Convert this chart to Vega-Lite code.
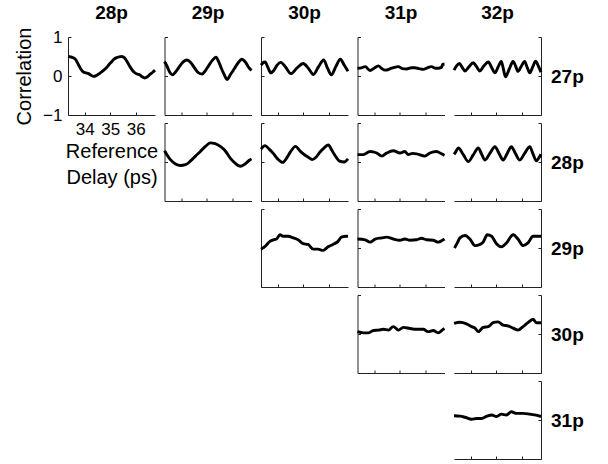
{
  "$schema": "https://vega.github.io/schema/vega-lite/v6.json",
  "padding": {"left": 14, "top": 3, "right": 5, "bottom": 0},
  "background": "white",
  "config": {
    "view": {"stroke": null},
    "font": "Liberation Sans",
    "axis": {"domainColor": "#222", "tickColor": "#222", "domainWidth": 1, "tickWidth": 1, "tickSize": -3, "grid": false, "labelColor": "black", "titleColor": "black", "labelFont": "Liberation Sans", "titleFont": "Liberation Sans", "labelFontSize": 17, "titleFontSize": 20, "titleFontWeight": "normal", "labelOverlap": false},
    "title": {"fontSize": 19, "fontWeight": "bold", "color": "black", "font": "Liberation Sans", "offset": 14},
    "line": {"color": "black", "strokeWidth": 2.9, "interpolate": "monotone"}
  },
  "datasets": {
    "p27_28": [{"x":33.35,"y":0.50},{"x":33.45,"y":0.49},{"x":33.55,"y":0.47},{"x":33.65,"y":0.42},{"x":33.75,"y":0.30},{"x":33.85,"y":0.18},{"x":33.95,"y":0.10},{"x":34.05,"y":0.08},{"x":34.15,"y":0.06},{"x":34.25,"y":0.02},{"x":34.35,"y":-0.01},{"x":34.45,"y":0.01},{"x":34.55,"y":0.05},{"x":34.65,"y":0.10},{"x":34.75,"y":0.15},{"x":34.85,"y":0.21},{"x":34.95,"y":0.29},{"x":35.05,"y":0.36},{"x":35.15,"y":0.43},{"x":35.25,"y":0.47},{"x":35.35,"y":0.49},{"x":35.45,"y":0.50},{"x":35.55,"y":0.47},{"x":35.65,"y":0.38},{"x":35.75,"y":0.26},{"x":35.85,"y":0.16},{"x":35.95,"y":0.09},{"x":36.05,"y":0.05},{"x":36.15,"y":0.03},{"x":36.25,"y":-0.02},{"x":36.35,"y":-0.05},{"x":36.45,"y":-0.02},{"x":36.55,"y":0.04},{"x":36.65,"y":0.09},{"x":36.75,"y":0.15}],
    "p27_29": [{"x":33.35,"y":0.37},{"x":33.45,"y":0.25},{"x":33.55,"y":0.10},{"x":33.65,"y":0.03},{"x":33.78,"y":0.10},{"x":33.93,"y":0.24},{"x":34.08,"y":0.36},{"x":34.23,"y":0.41},{"x":34.38,"y":0.34},{"x":34.53,"y":0.20},{"x":34.68,"y":0.08},{"x":34.82,"y":0.05},{"x":34.95,"y":0.14},{"x":35.09,"y":0.28},{"x":35.22,"y":0.40},{"x":35.36,"y":0.48},{"x":35.47,"y":0.36},{"x":35.57,"y":0.20},{"x":35.68,"y":0.04},{"x":35.79,"y":-0.09},{"x":35.94,"y":0.05},{"x":36.09,"y":0.20},{"x":36.23,"y":0.34},{"x":36.37,"y":0.43},{"x":36.52,"y":0.35},{"x":36.64,"y":0.22},{"x":36.75,"y":0.14}],
    "p27_30": [{"x":33.35,"y":0.28},{"x":33.43,"y":0.34},{"x":33.51,"y":0.36},{"x":33.62,"y":0.22},{"x":33.73,"y":0.08},{"x":33.85,"y":0.14},{"x":33.98,"y":0.28},{"x":34.12,"y":0.35},{"x":34.3,"y":0.24},{"x":34.52,"y":0.06},{"x":34.75,"y":0.20},{"x":35.0,"y":0.32},{"x":35.2,"y":0.20},{"x":35.4,"y":0.04},{"x":35.6,"y":0.24},{"x":35.8,"y":0.41},{"x":35.95,"y":0.20},{"x":36.1,"y":0.03},{"x":36.28,"y":0.25},{"x":36.45,"y":0.43},{"x":36.6,"y":0.28},{"x":36.75,"y":0.12}],
    "p27_31": [{"x":33.35,"y":0.20},{"x":33.5,"y":0.21},{"x":33.65,"y":0.24},{"x":33.84,"y":0.14},{"x":34.0,"y":0.20},{"x":34.17,"y":0.26},{"x":34.3,"y":0.19},{"x":34.43,"y":0.15},{"x":34.69,"y":0.20},{"x":34.95,"y":0.24},{"x":35.1,"y":0.19},{"x":35.27,"y":0.18},{"x":35.45,"y":0.21},{"x":35.59,"y":0.21},{"x":35.75,"y":0.19},{"x":35.92,"y":0.17},{"x":36.08,"y":0.21},{"x":36.24,"y":0.24},{"x":36.4,"y":0.20},{"x":36.5,"y":0.20},{"x":36.63,"y":0.22},{"x":36.68,"y":0.30},{"x":36.75,"y":0.30}],
    "p27_32": [{"x":33.35,"y":0.15},{"x":33.45,"y":0.26},{"x":33.56,"y":0.32},{"x":33.67,"y":0.22},{"x":33.78,"y":0.13},{"x":33.94,"y":0.24},{"x":34.10,"y":0.34},{"x":34.23,"y":0.24},{"x":34.36,"y":0.13},{"x":34.52,"y":0.26},{"x":34.69,"y":0.36},{"x":34.82,"y":0.22},{"x":34.95,"y":0.08},{"x":35.08,"y":0.24},{"x":35.20,"y":0.37},{"x":35.28,"y":0.18},{"x":35.36,"y":-0.02},{"x":35.51,"y":0.18},{"x":35.66,"y":0.37},{"x":35.76,"y":0.25},{"x":35.85,"y":0.12},{"x":35.98,"y":0.25},{"x":36.11,"y":0.37},{"x":36.21,"y":0.22},{"x":36.31,"y":0.08},{"x":36.43,"y":0.24},{"x":36.54,"y":0.38},{"x":36.65,"y":0.25},{"x":36.75,"y":0.10}],
    "p28_29": [{"x":33.35,"y":0.29},{"x":33.47,"y":0.16},{"x":33.58,"y":0.06},{"x":33.78,"y":-0.05},{"x":33.97,"y":-0.09},{"x":34.17,"y":-0.07},{"x":34.36,"y":0.02},{"x":34.56,"y":0.15},{"x":34.75,"y":0.27},{"x":34.95,"y":0.40},{"x":35.14,"y":0.49},{"x":35.33,"y":0.47},{"x":35.53,"y":0.40},{"x":35.72,"y":0.29},{"x":35.92,"y":0.10},{"x":36.11,"y":-0.03},{"x":36.31,"y":-0.11},{"x":36.5,"y":-0.05},{"x":36.68,"y":0.05},{"x":36.75,"y":0.08}],
    "p28_30": [{"x":33.35,"y":0.33},{"x":33.51,"y":0.42},{"x":33.67,"y":0.33},{"x":33.83,"y":0.22},{"x":34.0,"y":0.08},{"x":34.2,"y":-0.01},{"x":34.35,"y":0.10},{"x":34.5,"y":0.26},{"x":34.7,"y":0.40},{"x":34.88,"y":0.28},{"x":35.06,"y":0.18},{"x":35.2,"y":0.12},{"x":35.35,"y":0.06},{"x":35.5,"y":0.12},{"x":35.65,"y":0.25},{"x":35.82,"y":0.36},{"x":35.98,"y":0.44},{"x":36.12,"y":0.30},{"x":36.25,"y":0.16},{"x":36.42,"y":0.02},{"x":36.6,"y":0.0},{"x":36.75,"y":0.08}],
    "p28_31": [{"x":33.35,"y":0.19},{"x":33.58,"y":0.19},{"x":33.84,"y":0.27},{"x":34.10,"y":0.23},{"x":34.30,"y":0.15},{"x":34.49,"y":0.23},{"x":34.75,"y":0.29},{"x":35.01,"y":0.23},{"x":35.20,"y":0.27},{"x":35.33,"y":0.19},{"x":35.5,"y":0.22},{"x":35.66,"y":0.21},{"x":35.98,"y":0.15},{"x":36.18,"y":0.23},{"x":36.44,"y":0.27},{"x":36.63,"y":0.21},{"x":36.75,"y":0.17}],
    "p28_32": [{"x":33.35,"y":0.20},{"x":33.39,"y":0.23},{"x":33.52,"y":0.36},{"x":33.72,"y":0.18},{"x":33.91,"y":0.01},{"x":34.1,"y":0.18},{"x":34.30,"y":0.36},{"x":34.43,"y":0.2},{"x":34.56,"y":0.05},{"x":34.75,"y":0.22},{"x":34.95,"y":0.39},{"x":35.11,"y":0.22},{"x":35.27,"y":0.05},{"x":35.43,"y":0.22},{"x":35.59,"y":0.39},{"x":35.75,"y":0.22},{"x":35.92,"y":0.05},{"x":36.11,"y":0.22},{"x":36.31,"y":0.39},{"x":36.44,"y":0.2},{"x":36.57,"y":0.03},{"x":36.66,"y":0.1},{"x":36.75,"y":0.2}],
    "p29_30": [{"x":33.35,"y":-0.03},{"x":33.51,"y":0.04},{"x":33.70,"y":0.17},{"x":33.83,"y":0.21},{"x":33.96,"y":0.23},{"x":34.09,"y":0.34},{"x":34.22,"y":0.30},{"x":34.41,"y":0.30},{"x":34.61,"y":0.26},{"x":34.80,"y":0.21},{"x":35.0,"y":0.11},{"x":35.19,"y":0.09},{"x":35.39,"y":-0.03},{"x":35.58,"y":-0.03},{"x":35.78,"y":-0.06},{"x":35.97,"y":0.03},{"x":36.16,"y":0.09},{"x":36.36,"y":0.17},{"x":36.49,"y":0.28},{"x":36.68,"y":0.30},{"x":36.75,"y":0.30}],
    "p29_31": [{"x":33.35,"y":0.23},{"x":33.65,"y":0.21},{"x":33.84,"y":0.15},{"x":34.04,"y":0.23},{"x":34.30,"y":0.26},{"x":34.49,"y":0.28},{"x":34.75,"y":0.23},{"x":35.01,"y":0.20},{"x":35.20,"y":0.23},{"x":35.40,"y":0.20},{"x":35.66,"y":0.21},{"x":35.85,"y":0.25},{"x":36.05,"y":0.21},{"x":36.31,"y":0.20},{"x":36.50,"y":0.15},{"x":36.70,"y":0.21},{"x":36.75,"y":0.23}],
    "p29_32": [{"x":33.37,"y":0.00},{"x":33.48,"y":0.13},{"x":33.58,"y":0.26},{"x":33.78,"y":0.32},{"x":33.97,"y":0.23},{"x":34.17,"y":0.06},{"x":34.36,"y":0.09},{"x":34.49,"y":0.15},{"x":34.65,"y":0.34},{"x":34.82,"y":0.30},{"x":35.01,"y":0.11},{"x":35.20,"y":0.03},{"x":35.40,"y":0.13},{"x":35.66,"y":0.34},{"x":35.85,"y":0.23},{"x":36.05,"y":0.06},{"x":36.24,"y":0.13},{"x":36.44,"y":0.30},{"x":36.75,"y":0.30}],
    "p30_31": [{"x":33.35,"y":0.06},{"x":33.58,"y":0.03},{"x":33.78,"y":0.03},{"x":33.97,"y":0.09},{"x":34.17,"y":0.10},{"x":34.36,"y":0.12},{"x":34.56,"y":0.10},{"x":34.75,"y":0.19},{"x":34.95,"y":0.10},{"x":35.14,"y":0.17},{"x":35.40,"y":0.14},{"x":35.66,"y":0.12},{"x":35.92,"y":0.12},{"x":36.11,"y":0.06},{"x":36.31,"y":0.09},{"x":36.50,"y":0.03},{"x":36.70,"y":0.12},{"x":36.75,"y":0.14}],
    "p30_32": [{"x":33.35,"y":0.27},{"x":33.58,"y":0.30},{"x":33.84,"y":0.26},{"x":34.04,"y":0.19},{"x":34.17,"y":0.15},{"x":34.30,"y":0.06},{"x":34.49,"y":0.17},{"x":34.69,"y":0.19},{"x":34.88,"y":0.29},{"x":35.07,"y":0.31},{"x":35.27,"y":0.23},{"x":35.46,"y":0.21},{"x":35.66,"y":0.15},{"x":35.85,"y":0.10},{"x":36.05,"y":0.19},{"x":36.24,"y":0.29},{"x":36.44,"y":0.38},{"x":36.57,"y":0.29},{"x":36.75,"y":0.29}],
    "p31_32": [{"x":33.35,"y":0.11},{"x":33.58,"y":0.10},{"x":33.78,"y":0.07},{"x":34.04,"y":0.02},{"x":34.23,"y":0.04},{"x":34.43,"y":0.04},{"x":34.62,"y":0.09},{"x":34.82,"y":0.13},{"x":35.01,"y":0.09},{"x":35.20,"y":0.15},{"x":35.40,"y":0.13},{"x":35.59,"y":0.21},{"x":35.79,"y":0.17},{"x":36.05,"y":0.17},{"x":36.31,"y":0.15},{"x":36.50,"y":0.13},{"x":36.75,"y":0.09}],
    "empty": []
  },
  "columns": 5,
  "bounds": "flush",
  "spacing": {"row": 8, "column": 9.5},
  "concat": [
    {"width": 87, "height": 78, "data": {"name": "p27_28"}, "title": {"text": "28p", "offset": 4}, "mark": "line",
     "encoding": {
       "x": {"field": "x", "type": "quantitative", "scale": {"domain": [33.35, 36.75], "nice": false, "zero": false}, "axis": {"values": [34, 35, 36], "format": "d", "title": ["Reference", "Delay (ps)"], "titleLineHeight": 26, "labelPadding": 9, "titlePadding": 4}},
       "y": {"field": "y", "type": "quantitative", "scale": {"domain": [-1, 1], "nice": false}, "axis": {"values": [-1, 0, 1], "labelExpr": "datum.value > 0.5 ? '1' : (datum.value < -0.5 ? '−1' : '0')", "labelOverlap": false, "labelFlush": false, "title": "Correlation", "labelPadding": 9, "titlePadding": 8}}}},
    {"width": 87, "height": 78, "data": {"name": "p27_29"}, "title": "29p", "mark": "line",
     "encoding": {
       "x": {"field": "x", "type": "quantitative", "scale": {"domain": [33.35, 36.75], "nice": false, "zero": false}, "axis": {"values": [34, 35, 36], "labels": false, "title": null}},
       "y": {"field": "y", "type": "quantitative", "scale": {"domain": [-1, 1], "nice": false}, "axis": {"values": [-1, 0, 1], "labels": false, "title": null}}}},
    {"width": 87, "height": 78, "data": {"name": "p27_30"}, "title": "30p", "mark": "line",
     "encoding": {
       "x": {"field": "x", "type": "quantitative", "scale": {"domain": [33.35, 36.75], "nice": false, "zero": false}, "axis": {"values": [34, 35, 36], "labels": false, "title": null}},
       "y": {"field": "y", "type": "quantitative", "scale": {"domain": [-1, 1], "nice": false}, "axis": {"values": [-1, 0, 1], "labels": false, "title": null}}}},
    {"width": 87, "height": 78, "data": {"name": "p27_31"}, "title": "31p", "mark": "line",
     "encoding": {
       "x": {"field": "x", "type": "quantitative", "scale": {"domain": [33.35, 36.75], "nice": false, "zero": false}, "axis": {"values": [34, 35, 36], "labels": false, "title": null}},
       "y": {"field": "y", "type": "quantitative", "scale": {"domain": [-1, 1], "nice": false}, "axis": {"values": [-1, 0, 1], "labels": false, "title": null}}}},
    {"width": 87, "height": 78, "data": {"name": "p27_32"}, "title": "32p", "mark": "line",
     "encoding": {
       "x": {"field": "x", "type": "quantitative", "scale": {"domain": [33.35, 36.75], "nice": false, "zero": false}, "axis": {"values": [34, 35, 36], "labels": false, "title": null}},
       "y": {"field": "y", "type": "quantitative", "scale": {"domain": [-1, 1], "nice": false}, "axis": {"orient": "right", "values": [-1, 0, 1], "labels": false, "title": "27p", "titleAngle": 0, "titleAlign": "left", "titleBaseline": "middle", "titleFontWeight": "bold", "titleFontSize": 19, "titlePadding": 9}}}},

    {"width": 87, "height": 78, "data": {"name": "empty"}, "mark": {"type": "point", "opacity": 0}},
    {"width": 87, "height": 78, "data": {"name": "p28_29"}, "mark": "line",
     "encoding": {
       "x": {"field": "x", "type": "quantitative", "scale": {"domain": [33.35, 36.75], "nice": false, "zero": false}, "axis": {"values": [34, 35, 36], "labels": false, "title": null}},
       "y": {"field": "y", "type": "quantitative", "scale": {"domain": [-1, 1], "nice": false}, "axis": {"values": [-1, 0, 1], "labels": false, "title": null}}}},
    {"width": 87, "height": 78, "data": {"name": "p28_30"}, "mark": "line",
     "encoding": {
       "x": {"field": "x", "type": "quantitative", "scale": {"domain": [33.35, 36.75], "nice": false, "zero": false}, "axis": {"values": [34, 35, 36], "labels": false, "title": null}},
       "y": {"field": "y", "type": "quantitative", "scale": {"domain": [-1, 1], "nice": false}, "axis": {"values": [-1, 0, 1], "labels": false, "title": null}}}},
    {"width": 87, "height": 78, "data": {"name": "p28_31"}, "mark": "line",
     "encoding": {
       "x": {"field": "x", "type": "quantitative", "scale": {"domain": [33.35, 36.75], "nice": false, "zero": false}, "axis": {"values": [34, 35, 36], "labels": false, "title": null}},
       "y": {"field": "y", "type": "quantitative", "scale": {"domain": [-1, 1], "nice": false}, "axis": {"values": [-1, 0, 1], "labels": false, "title": null}}}},
    {"width": 87, "height": 78, "data": {"name": "p28_32"}, "mark": "line",
     "encoding": {
       "x": {"field": "x", "type": "quantitative", "scale": {"domain": [33.35, 36.75], "nice": false, "zero": false}, "axis": {"values": [34, 35, 36], "labels": false, "title": null}},
       "y": {"field": "y", "type": "quantitative", "scale": {"domain": [-1, 1], "nice": false}, "axis": {"orient": "right", "values": [-1, 0, 1], "labels": false, "title": "28p", "titleAngle": 0, "titleAlign": "left", "titleBaseline": "middle", "titleFontWeight": "bold", "titleFontSize": 19, "titlePadding": 9}}}},

    {"width": 87, "height": 78, "data": {"name": "empty"}, "mark": {"type": "point", "opacity": 0}},
    {"width": 87, "height": 78, "data": {"name": "empty"}, "mark": {"type": "point", "opacity": 0}},
    {"width": 87, "height": 78, "data": {"name": "p29_30"}, "mark": "line",
     "encoding": {
       "x": {"field": "x", "type": "quantitative", "scale": {"domain": [33.35, 36.75], "nice": false, "zero": false}, "axis": {"values": [34, 35, 36], "labels": false, "title": null}},
       "y": {"field": "y", "type": "quantitative", "scale": {"domain": [-1, 1], "nice": false}, "axis": {"values": [-1, 0, 1], "labels": false, "title": null}}}},
    {"width": 87, "height": 78, "data": {"name": "p29_31"}, "mark": "line",
     "encoding": {
       "x": {"field": "x", "type": "quantitative", "scale": {"domain": [33.35, 36.75], "nice": false, "zero": false}, "axis": {"values": [34, 35, 36], "labels": false, "title": null}},
       "y": {"field": "y", "type": "quantitative", "scale": {"domain": [-1, 1], "nice": false}, "axis": {"values": [-1, 0, 1], "labels": false, "title": null}}}},
    {"width": 87, "height": 78, "data": {"name": "p29_32"}, "mark": "line",
     "encoding": {
       "x": {"field": "x", "type": "quantitative", "scale": {"domain": [33.35, 36.75], "nice": false, "zero": false}, "axis": {"values": [34, 35, 36], "labels": false, "title": null}},
       "y": {"field": "y", "type": "quantitative", "scale": {"domain": [-1, 1], "nice": false}, "axis": {"orient": "right", "values": [-1, 0, 1], "labels": false, "title": "29p", "titleAngle": 0, "titleAlign": "left", "titleBaseline": "middle", "titleFontWeight": "bold", "titleFontSize": 19, "titlePadding": 9}}}},

    {"width": 87, "height": 78, "data": {"name": "empty"}, "mark": {"type": "point", "opacity": 0}},
    {"width": 87, "height": 78, "data": {"name": "empty"}, "mark": {"type": "point", "opacity": 0}},
    {"width": 87, "height": 78, "data": {"name": "empty"}, "mark": {"type": "point", "opacity": 0}},
    {"width": 87, "height": 78, "data": {"name": "p30_31"}, "mark": "line",
     "encoding": {
       "x": {"field": "x", "type": "quantitative", "scale": {"domain": [33.35, 36.75], "nice": false, "zero": false}, "axis": {"values": [34, 35, 36], "labels": false, "title": null}},
       "y": {"field": "y", "type": "quantitative", "scale": {"domain": [-1, 1], "nice": false}, "axis": {"values": [-1, 0, 1], "labels": false, "title": null}}}},
    {"width": 87, "height": 78, "data": {"name": "p30_32"}, "mark": "line",
     "encoding": {
       "x": {"field": "x", "type": "quantitative", "scale": {"domain": [33.35, 36.75], "nice": false, "zero": false}, "axis": {"values": [34, 35, 36], "labels": false, "title": null}},
       "y": {"field": "y", "type": "quantitative", "scale": {"domain": [-1, 1], "nice": false}, "axis": {"orient": "right", "values": [-1, 0, 1], "labels": false, "title": "30p", "titleAngle": 0, "titleAlign": "left", "titleBaseline": "middle", "titleFontWeight": "bold", "titleFontSize": 19, "titlePadding": 9}}}},

    {"width": 87, "height": 78, "data": {"name": "empty"}, "mark": {"type": "point", "opacity": 0}},
    {"width": 87, "height": 78, "data": {"name": "empty"}, "mark": {"type": "point", "opacity": 0}},
    {"width": 87, "height": 78, "data": {"name": "empty"}, "mark": {"type": "point", "opacity": 0}},
    {"width": 87, "height": 78, "data": {"name": "empty"}, "mark": {"type": "point", "opacity": 0}},
    {"width": 87, "height": 78, "data": {"name": "p31_32"}, "mark": "line",
     "encoding": {
       "x": {"field": "x", "type": "quantitative", "scale": {"domain": [33.35, 36.75], "nice": false, "zero": false}, "axis": {"values": [34, 35, 36], "labels": false, "title": null}},
       "y": {"field": "y", "type": "quantitative", "scale": {"domain": [-1, 1], "nice": false}, "axis": {"orient": "right", "values": [-1, 0, 1], "labels": false, "title": "31p", "titleAngle": 0, "titleAlign": "left", "titleBaseline": "middle", "titleFontWeight": "bold", "titleFontSize": 19, "titlePadding": 9}}}}
  ]
}
